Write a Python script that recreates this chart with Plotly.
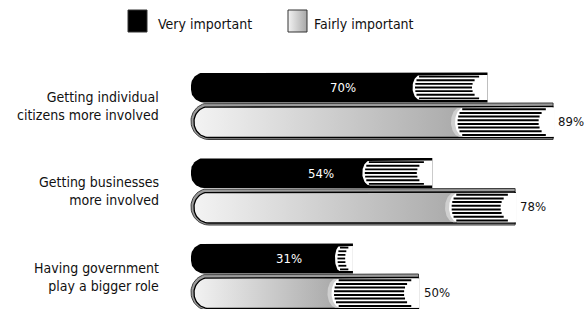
import numpy as np
import plotly.graph_objects as go

# ---------------- data ----------------
categories = ["Getting individual<br>citizens more involved",
              "Getting businesses<br>more involved",
              "Having government<br>play a bigger role"]
very_important = [70, 54, 31]
fairly_important = [89, 78, 50]
series_names = ["Very important", "Fairly important"]

# ---------------- layout / style constants ----------------
W, H = 588, 309
X0_PX = 246.0          # pixel position of value 0
K = 3.45               # pixels per percentage point
X_RANGE = [-X0_PX / K, (W - X0_PX) / K]


def ux(px):
    """pixel length -> x-axis units"""
    return px / K


SPINE_PX = 55          # rounded spine drawn left of the zero line
ROW_Y0 = 102.5         # y (px from top) of boundary between the two books in row 0
ROW_STEP = 85.5
VERY_H = 30
FAIRLY_H = 37
PAGES_VERY_PX = [75, 70, 18]
PAGES_FAIRLY_PX = [98, 66, 87]
FONT = "Liberation Sans Narrow, DejaVu Sans Condensed, Roboto, sans-serif"

traces = []


def left_round_poly(xl, xr, yt, yb, rx, ry, n=18):
    xs, ys = [xr], [yt]
    t = np.linspace(0, np.pi / 2, n)
    xs += list(xl + rx - rx * np.sin(t))
    ys += list(yt + ry - ry * np.cos(t))
    t = np.linspace(np.pi / 2, np.pi, n)
    xs += list(xl + rx - rx * np.sin(t))
    ys += list(yb - ry - ry * np.cos(t))
    xs += [xr, xr]
    ys += [yb, yt]
    return xs, ys


def poly(xs, ys, fill, line_color=None, line_w=0, grad=None):
    kw = dict(x=xs, y=ys, mode="lines", fill="toself", hoverinfo="skip",
              showlegend=False,
              line=dict(color=line_color or fill or "rgba(0,0,0,0)", width=line_w))
    if grad is not None:
        kw["fillgradient"] = grad
    else:
        kw["fillcolor"] = fill
    traces.append(go.Scatter(**kw))


def pages(notch, end, yt, yb, rx_l, rx_r, n_lines, lw, edge=None):
    """page block: white area with rounded left edge, horizontal page lines,
    concave right edge"""
    if edge:
        xs, ys = left_round_poly(notch - rx_l * 0.45, end, yt, yb, rx_l, (yb - yt) / 2)
        poly(xs, ys, edge)
    xs, ys = left_round_poly(notch, end, yt, yb, rx_l, (yb - yt) / 2)
    poly(xs, ys, "white")
    mid = (yt + yb) / 2
    ry = (yb - yt) / 2
    lx, ly = [], []
    for yy in np.linspace(yt + lw * 0.9, yb - lw * 0.9, n_lines):
        r = min(1.0, abs(yy - mid) / ry)
        s = notch + rx_l * (1 - np.sqrt(1 - r ** 2)) + ux(2.5)
        e = end - rx_r * np.sqrt(max(0.0, 1 - r ** 2)) - ux(1.5)
        if e > s:
            lx += [s, e, None]
            ly += [yy, yy, None]
    traces.append(go.Scatter(x=lx, y=ly, mode="lines", hoverinfo="skip",
                             showlegend=False, line=dict(color="black", width=lw)))


annotations = []
for i, cat in enumerate(categories):
    yb = ROW_Y0 + i * ROW_STEP
    xl = -ux(SPINE_PX)

    # ---- "Very important" book (black) ----
    v = very_important[i]
    top, bot = yb - VERY_H, yb
    xs, ys = left_round_poly(xl, v, top, bot, ux(13), 13)
    poly(xs, ys, "black")
    pw = ux(PAGES_VERY_PX[i])
    ct = 2.5
    pages(v - pw, v, top + ct, bot - ct, min(ux(8), pw * 0.28), min(ux(14), pw * 0.35),
          7, 1.8)
    annotations.append(dict(x=v * 0.4, y=(top + bot) / 2, xref="x", yref="y",
                            text=f"{v}%", showarrow=False,
                            font=dict(family=FONT, size=13, color="white")))

    # ---- "Fairly important" book (gray gradient) ----
    f = fairly_important[i]
    top, bot = yb + 0.5, yb + FAIRLY_H
    pwf = ux(PAGES_FAIRLY_PX[i])
    xs, ys = left_round_poly(xl, f, top, bot, ux(18), 18)
    poly(xs, ys, "#9a9a9a", "#3c3c3c", 1)
    xs, ys = left_round_poly(xl + ux(3), f, top + 3.5, bot - 2, ux(15), 15)
    poly(xs, ys, None, "black", 1.3,
         grad=dict(type="horizontal", start=xl, stop=f - pwf,
                   colorscale=[[0, "#f4f4f4"], [1, "#acacac"]]))
    pages(f - pwf, f + ux(1), top + 4.5, bot - 2.8, min(ux(9), pwf * 0.25),
          min(ux(14), pwf * 0.3), 8, 2.0, edge="#cfcfcf")
    annotations.append(dict(x=f + ux(3), y=(top + bot) / 2, xref="x", yref="y",
                            text=f"{f}%", showarrow=False, xanchor="left",
                            font=dict(family=FONT, size=13, color="#111")))

    # ---- category label ----
    annotations.append(dict(x=161 / W, y=yb + 3, xref="paper", yref="y",
                            text=cat, showarrow=False, xanchor="right", align="right",
                            font=dict(family=FONT, size=14, color="#111")))

# ---------------- legend (manual) ----------------
def px2x(px):
    return (px - X0_PX) / K

xs, ys = left_round_poly(px2x(128), px2x(147), 10, 32, 0.001, 0.001, n=2)
poly(xs, ys, "black", "#333", 1)
xs, ys = left_round_poly(px2x(288), px2x(307), 10, 32, 0.001, 0.001, n=2)
poly(xs, ys, None, "#333", 1,
     grad=dict(type="horizontal", colorscale=[[0, "#f2f2f2"], [1, "#a8a8a8"]]))
annotations.append(dict(x=px2x(156), y=24, xref="x", yref="y", text=series_names[0],
                        showarrow=False, xanchor="left",
                        font=dict(family=FONT, size=14, color="#111")))
annotations.append(dict(x=px2x(312), y=24, xref="x", yref="y", text=series_names[1],
                        showarrow=False, xanchor="left",
                        font=dict(family=FONT, size=14, color="#111")))

fig = go.Figure(traces)
fig.update_layout(
    width=W, height=H, margin=dict(l=0, r=0, t=0, b=0),
    paper_bgcolor="white", plot_bgcolor="white",
    xaxis=dict(range=X_RANGE, visible=False, fixedrange=True),
    yaxis=dict(range=[H, 0], visible=False, fixedrange=True),
    annotations=annotations, showlegend=False,
    font=dict(family=FONT),
)
fig.write_html("out.html", config={"displayModeBar": False},
               post_script="document.body.style.margin='0';document.body.style.overflow='hidden';")
